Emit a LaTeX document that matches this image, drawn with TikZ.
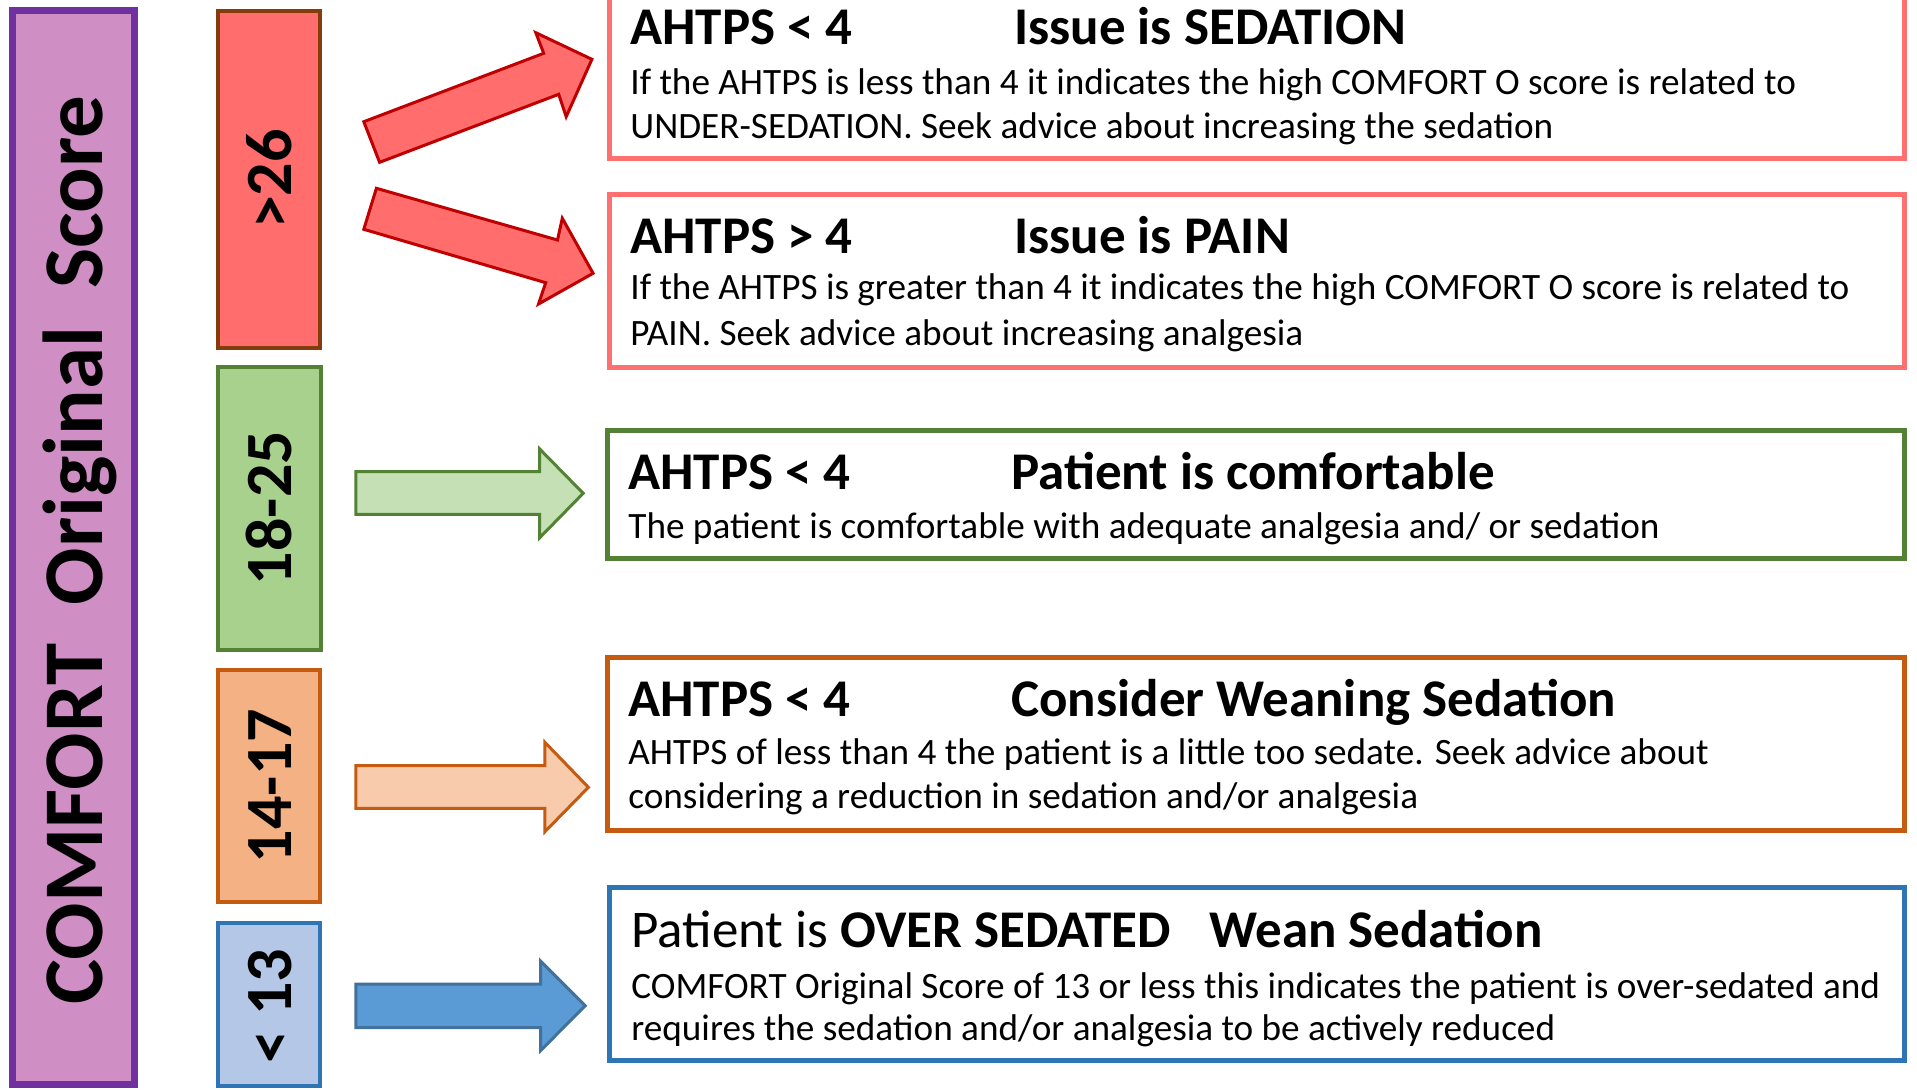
\documentclass[tikz,border=0pt]{standalone}
\usepackage{fontspec}
\setmainfont{Carlito}
\usetikzlibrary{fit}
\definecolor{purpfill}{HTML}{CF8FC4}
\definecolor{purpline}{HTML}{7030A0}
\definecolor{redfill}{HTML}{FF6D6D}
\definecolor{brownline}{HTML}{843C0C}
\definecolor{grnfill}{HTML}{A9D18E}
\definecolor{grnline}{HTML}{548235}
\definecolor{orgfill}{HTML}{F4B183}
\definecolor{orgline}{HTML}{C55A11}
\definecolor{blufill}{HTML}{B4C7E7}
\definecolor{bluline}{HTML}{2E75B6}
\definecolor{arrred}{HTML}{C00000}
\definecolor{redbox}{HTML}{FF7171}
\definecolor{grnarr}{HTML}{C5E0B4}
\definecolor{orgarr}{HTML}{F8CBAD}
\definecolor{bluarr}{HTML}{5B9BD5}
\definecolor{bluarrline}{HTML}{41719C}
\newcommand\hdfnt{\fontsize{26.5pt}{32pt}\selectfont\bfseries}
\newcommand\hdfntreg{\fontsize{26.5pt}{32pt}\selectfont}
\newcommand\bdfnt{\fontsize{18.6pt}{22pt}\selectfont}
\newcommand\lblfnt{\fontsize{33pt}{40pt}\selectfont\bfseries}
\newcommand\ttlfnt{\fontsize{42.5pt}{50pt}\selectfont\bfseries}
\begin{document}
\begin{tikzpicture}[x=0.5pt,y=-0.5pt,
  box/.style={draw, inner sep=0pt, line width=2.5pt},
  sbox/.style={draw, inner sep=0pt, line width=2pt},
  lbl/.style={rotate=90, anchor=base, inner sep=0pt, font=\lblfnt},
  hd/.style={anchor=base west, inner sep=0pt, font=\hdfnt},
  bd/.style={anchor=base west, inner sep=0pt, font=\bdfnt},
  blk/.style={line width=1.5pt, line join=miter}]
\useasboundingbox (0,0) rectangle (1917,1089);
\clip (0,0) rectangle (1917,1089);

% title column
\node[box, line width=3.5pt, draw=purpline, fill=purpfill, fit={(12.5,10.5) (134.5,1084.5)}] (score) {};
\node[lbl, font=\ttlfnt] (scoretxt) at (102,550) {COMFORT~~Original~~Score};

% score range boxes
\node[sbox, draw=brownline, fill=redfill, fit={(217.5,11) (319.5,348)}] (r26) {};
\node[lbl] (r26t) at (291,179) {>26};
\node[sbox, draw=grnline, fill=grnfill, fit={(218,367) (321,650)}] (r18) {};
\node[lbl] (r18t) at (291,508) {18-25};
\node[sbox, draw=orgline, fill=orgfill, fit={(217.5,670) (320,902)}] (r14) {};
\node[lbl] (r14t) at (291,786) {14-17};
\node[sbox, draw=bluline, fill=blufill, fit={(217.5,923) (319.5,1086)}] (r13) {};
\node[lbl] (r13t) at (291,1006) {< 13};

% block arrows
\draw[blk, draw=arrred, fill=redfill] (363.8,121.7) -- (543.7,53.3) -- (535.8,32.7) -- (591.9,59.3) -- (566.2,116.7) -- (558.7,94.3) -- (379.6,162.3) -- cycle;
\draw[blk, draw=arrred, fill=redfill] (376.4,188.3) -- (557.5,240) -- (562.3,218.3) -- (593.1,273.3) -- (538.5,304) -- (545.7,282.7) -- (363.8,229.3) -- cycle;
\draw[blk, draw=grnline, fill=grnarr] (355.9,471.7) -- (539.7,471.7) -- (539.7,449) -- (583.2,493.3) -- (539.7,537.7) -- (539.7,514.3) -- (355.9,514.3) -- cycle;
\draw[blk, draw=orgline, fill=orgarr] (355.9,765.7) -- (544.9,765.7) -- (544.9,742.3) -- (588.4,787.3) -- (544.9,831.7) -- (544.9,808.3) -- (355.9,808.3) -- cycle;
\draw[blk, draw=bluarrline, fill=bluarr] (355.9,984) -- (540.5,984) -- (540.5,961) -- (585.2,1005.7) -- (540.5,1050.7) -- (540.5,1027.7) -- (355.9,1027.7) -- cycle;

% result boxes
\node[box, draw=redbox, fit={(609.5,-10) (1904.5,158.5)}] (b1) {};
\node[hd] (b1h) at (630,44) {AHTPS < 4};
\node[hd] (b1i) at (1014,44) {Issue is SEDATION};
\node[bd] (b1a) at (630,94) {If the AHTPS is less than 4 it indicates the high COMFORT O score is related to};
\node[bd] (b1b) at (630,138) {UNDER-SEDATION. Seek advice about increasing the sedation};

\node[box, draw=redbox, fit={(609.5,194.5) (1904.5,367.5)}] (b2) {};
\node[hd] (b2h) at (630,253) {AHTPS > 4};
\node[hd] (b2i) at (1014,253) {Issue is PAIN};
\node[bd] (b2a) at (630,299) {If the AHTPS is greater than 4 it indicates the high COMFORT O score is related to};
\node[bd] (b2b) at (630,345) {PAIN. Seek advice about increasing analgesia};

\node[box, draw=grnline, fit={(607.5,430.5) (1904.5,558.5)}] (b3) {};
\node[hd] (b3h) at (628,489) {AHTPS < 4};
\node[hd] (b3i) at (1011,489) {Patient is comfortable};
\node[bd] (b3a) at (628,538) {The patient is comfortable with adequate analgesia and/ or sedation};

\node[box, draw=orgline, fit={(607.5,657.5) (1904.5,830.5)}] (b4) {};
\node[hd] (b4h) at (628,716) {AHTPS < 4};
\node[hd] (b4i) at (1011,716) {Consider Weaning Sedation};
\node[bd] (b4a) at (628,764) {AHTPS of less than 4 the patient is a little too sedate. Seek advice about};
\node[bd] (b4b) at (628,808) {considering a reduction in sedation and/or analgesia};

\node[box, draw=bluline, fit={(609.5,887.5) (1904.5,1060.5)}] (b5) {};
\node[hd, font=\hdfntreg] (b5h) at (631,947) {Patient is \bfseries OVER SEDATED};
\node[hd] (b5i) at (1209,947) {Wean Sedation};
\node[bd] (b5a) at (631,998) {COMFORT Original Score of 13 or less this indicates the patient is over-sedated and};
\node[bd] (b5b) at (631,1040) {requires the sedation and/or analgesia to be actively reduced};
\end{tikzpicture}
\end{document}
